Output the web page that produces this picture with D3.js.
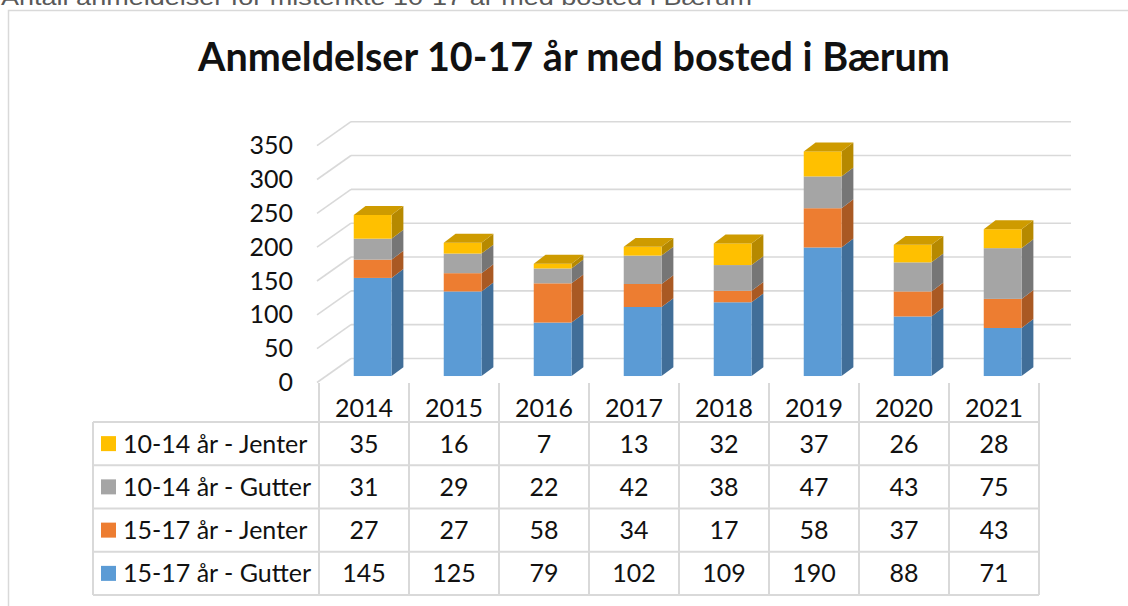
<!DOCTYPE html>
<html>
<head>
<meta charset="utf-8">
<script src="https://cdn.jsdelivr.net/npm/d3@7"></script>
<style>
  body { margin: 0; background: #fff; }
  svg { display: block; }
  text { font-family: Lato, "Open Sans", sans-serif; fill: #111; }
</style>
</head>
<body>
<svg id="chart" width="1128" height="606"></svg>
<script>
// data
const years = ["2014", "2015", "2016", "2017", "2018", "2019", "2020", "2021"];
const gutter1517 = [145, 125, 79, 102, 109, 190, 88, 71];
const jenter1517 = [27, 27, 58, 34, 17, 58, 37, 43];
const gutter1014 = [31, 29, 22, 42, 38, 47, 43, 75];
const jenter1014 = [35, 16, 7, 13, 32, 37, 26, 28];
const seriesNames = ["15-17 år - Gutter", "15-17 år - Jenter", "10-14 år - Gutter", "10-14 år - Jenter"];
const seriesColors = ["#5b9bd5", "#ed7d31", "#a5a5a5", "#ffc000"];
const yTicks = [0, 50, 100, 150, 200, 250, 300, 350];

const allSeries = [gutter1517, jenter1517, gutter1014, jenter1014];
const rows = years.map((yr, i) => {
  const r = { year: yr };
  seriesNames.forEach((s, k) => r[s] = allSeries[k][i]);
  return r;
});

const svg = d3.select("#chart");
const gridColor = "#d9d9d9";

// outer frame (partly cut off at the top like the screenshot)
svg.append("text")
  .attr("x", 1).attr("y", 5)
  .attr("textLength", 751).attr("lengthAdjust", "spacingAndGlyphs")
  .style("font-family", "'Liberation Sans', Arial, sans-serif")
  .style("font-size", "22px").style("fill", "#595959")
  .text("Antall anmeldelser for mistenkte 10-17 år med bosted i Bærum");

svg.append("path")
  .attr("d", "M8.5,606V10.5H1128")
  .attr("fill", "none").attr("stroke", gridColor).attr("stroke-width", 1.5);

// title, sized to fit the reference width
const title = svg.append("text")
  .attr("x", 574).attr("y", 71)
  .attr("text-anchor", "middle")
  .style("font-weight", "bold").style("font-size", "34px")
  .text("Anmeldelser 10-17 år med bosted i Bærum");
const tw = title.node().getComputedTextLength();
title.style("font-size", (34 * 752 / tw) + "px");

// scales
const x = d3.scaleBand().domain(years).range([319, 1039]);
const y = d3.scaleLinear().domain([0, 350]).range([382.5, 145.7]);

// fake 3D depth: t in [0,1] shifts right and up
const depthX = 32, depthY = 24;
const px = (xv, t) => xv + depthX * t;
const py = (v, t) => y(v) - depthY * t;

// gridlines: back wall + side diagonal
const grid = svg.append("g").attr("stroke", gridColor).attr("stroke-width", 1.6).attr("fill", "none");
yTicks.forEach(v => {
  grid.append("line")
    .attr("x1", px(x.range()[0], 1)).attr("x2", px(x.range()[1], 1))
    .attr("y1", py(v, 1)).attr("y2", py(v, 1));
  grid.append("line")
    .attr("x1", px(x.range()[0] - 2, 0)).attr("x2", px(x.range()[0], 1))
    .attr("y1", py(v, 0)).attr("y2", py(v, 1));
});

// y axis labels on the front plane
const yAxis = svg.append("g")
  .attr("transform", "translate(293,0)")
  .call(d3.axisLeft(y).tickValues(yTicks).tickSize(0).tickPadding(0));
yAxis.select(".domain").remove();
yAxis.selectAll("text").style("font-family", "Lato, sans-serif").style("font-size", "25px").attr("fill", "#111");

// stacked 3D bars
const stack = d3.stack().keys(seriesNames);
const series = stack(rows);
const barW = x.bandwidth() * 0.42;
const t0 = 0.27, t1 = 0.64;

const bars = svg.append("g");
years.forEach((yr, i) => {
  const cx = x(yr) + x.bandwidth() / 2;
  const xl = px(cx - barW / 2, t0), xr = px(cx + barW / 2, t0);
  const dx = depthX * (t1 - t0), dy = depthY * (t1 - t0);
  const g = bars.append("g");
  series.forEach((s, k) => {
    const d = s[i];
    const c = d3.color(seriesColors[k]);
    const yb = py(d[0], t0), yt = py(d[1], t0);
    if (d[1] - d[0] <= 0) return;
    // side face
    g.append("path")
      .attr("d", `M${xr},${yb}L${xr + dx},${yb - dy}L${xr + dx},${yt - dy}L${xr},${yt}Z`)
      .attr("fill", c.darker(0.95));
    // front face
    g.append("rect")
      .attr("x", xl).attr("y", yt)
      .attr("width", xr - xl).attr("height", yb - yt)
      .attr("fill", c);
    if (k === series.length - 1) {
      g.append("path")
        .attr("d", `M${xl},${yt}L${xl + dx},${yt - dy}L${xr + dx},${yt - dy}L${xr},${yt}Z`)
        .attr("fill", c.darker(0.6));
    }
  });
});

// data table
const tableTop = 422, tableBottom = 595, tableLeft = 93;
const rowOrder = seriesNames.slice().reverse();
const rowY = d3.scaleBand().domain(rowOrder).range([tableTop, tableBottom]);

const table = svg.append("g").attr("stroke", gridColor).attr("stroke-width", 2);
x.domain().concat(["end"]).forEach((yr, i) => {
  const xv = i < years.length ? x(yr) : x.range()[1];
  table.append("line").attr("x1", xv).attr("x2", xv).attr("y1", 383).attr("y2", tableBottom);
});
table.append("line").attr("x1", tableLeft).attr("x2", tableLeft).attr("y1", tableTop).attr("y2", tableBottom);
rowOrder.concat(["end"]).forEach((s, i) => {
  const yv = i < rowOrder.length ? rowY(s) : tableBottom;
  table.append("line").attr("x1", tableLeft).attr("x2", x.range()[1]).attr("y1", yv).attr("y2", yv);
});

// year headers
const xAxis = svg.append("g")
  .attr("transform", "translate(0,399)")
  .call(d3.axisBottom(x).tickSize(0).tickPadding(0));
xAxis.select(".domain").remove();
xAxis.selectAll("text").style("font-family", "Lato, sans-serif").style("font-size", "25px").attr("fill", "#111");

// rows: legend key + label + values
rowOrder.forEach(s => {
  const k = seriesNames.indexOf(s);
  const cy = rowY(s) + rowY.bandwidth() / 2;
  svg.append("rect")
    .attr("x", 101).attr("y", cy - 7.5).attr("width", 15).attr("height", 15)
    .attr("fill", seriesColors[k]);
  svg.append("text")
    .attr("x", 123).attr("y", cy + 9)
    .style("font-size", "25px")
    .text(s);
  svg.selectAll(null).data(rows).enter().append("text")
    .attr("x", d => x(d.year) + x.bandwidth() / 2)
    .attr("y", cy + 9)
    .attr("text-anchor", "middle")
    .style("font-size", "25px")
    .text(d => d[s]);
});
</script>
</body>
</html>
